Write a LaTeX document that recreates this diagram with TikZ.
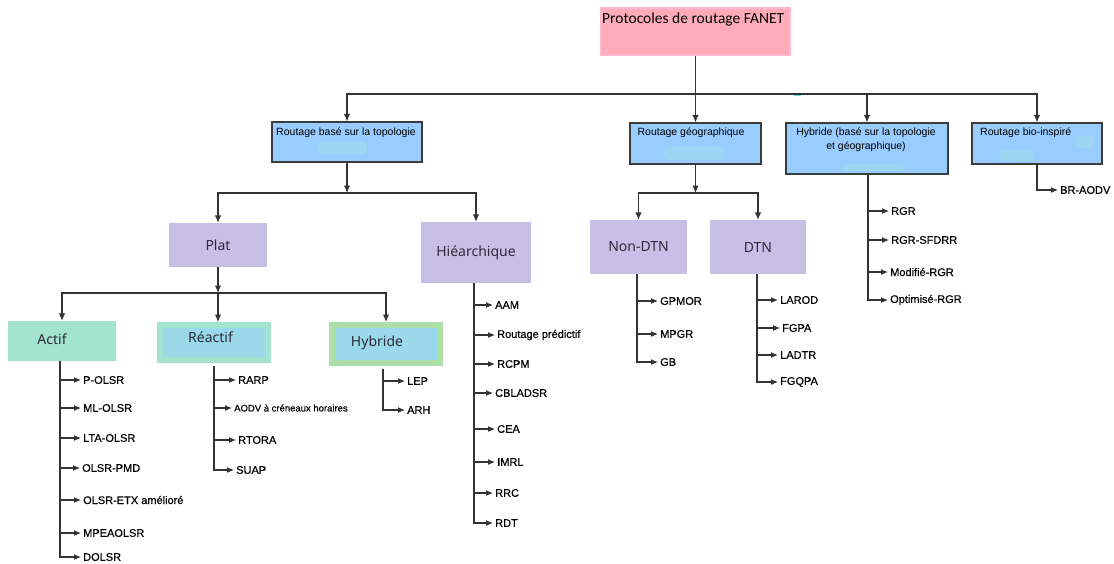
\documentclass[tikz,border=0pt]{standalone}
\usepackage{fontspec}
\setmainfont{Liberation Sans}
\newfontfamily\calibfont{Carlito}
\newfontfamily\notofont{Noto Sans}
\newfontfamily\leaffont{Liberation Sans}[FakeBold=0.5]
\usetikzlibrary{arrows.meta}

\definecolor{rootpink}{HTML}{FFABBA}
\definecolor{rootedge}{HTML}{FFB8CF}
\definecolor{catblue}{HTML}{99CCFF}
\definecolor{catedge}{HTML}{3C3C3C}
\definecolor{lavender}{HTML}{C8BFE7}
\definecolor{mint}{HTML}{A3E4CF}
\definecolor{skyfill}{HTML}{99D9EA}
\definecolor{leafgreen}{HTML}{ADDFA8}
\definecolor{smudge}{HTML}{9CD6F2}
\definecolor{wirecol}{HTML}{333333}
\definecolor{subtext}{HTML}{2E2A3A}

\tikzset{
  rootbox/.style={rectangle, fill=rootpink, draw=rootedge, line width=1.5pt,
    minimum width=189pt, minimum height=47pt, inner sep=0pt},
  catbox/.style={rectangle, fill=catblue, draw=catedge, line width=1.1pt,
    inner sep=0pt},
  cattext/.style={font=\fontsize{10.5}{13}\selectfont, inner sep=0pt, align=center},
  subbox/.style={rectangle, fill=lavender, inner sep=0pt, text=subtext,
    font=\notofont\fontsize{14}{16}\selectfont},
  subtextstyle/.style={inner sep=0pt, text=subtext, font=\notofont\fontsize{14}{16}\selectfont},
  leaf/.style={anchor=west, inner xsep=2pt, inner ysep=0pt,
    font=\leaffont\fontsize{11}{13}\selectfont},
  wire/.style={draw=wirecol, line width=1.1pt},
  arr/.style={wire, -{Latex[length=7.5pt,width=6.5pt]}},
  leafarr/.style={wire, -{Latex[length=7pt,width=6pt]}},
}

\begin{document}
\begin{tikzpicture}[x=1pt, y=-1pt]
\useasboundingbox (0,0) rectangle (1114,563);

% ---- root ----
\node[rootbox] (root) at (695.5,31.5) {};
\node[anchor=west, inner sep=0pt, font=\calibfont\fontsize{15.5}{18}\selectfont] (roottxt) at (602,19) {Protocoles de routage FANET};

% ---- first level ----
\node[catbox, minimum width=150pt, minimum height=40pt] (topo) at (347,142) {};
\node[catbox, minimum width=131pt, minimum height=41pt] (geo) at (695.5,143.5) {};
\node[catbox, minimum width=162pt, minimum height=51pt] (hyb) at (867,148.5) {};
\node[catbox, minimum width=130pt, minimum height=41pt] (bio) at (1037,143.5) {};

% faint marks inside the blue boxes
\fill[smudge, rounded corners=4pt] (317,142) rectangle (367,154);
\fill[smudge, rounded corners=4pt] (664,147) rectangle (725,160);
\fill[smudge, rounded corners=4pt] (843,164) rectangle (904,171);
\fill[smudge, rounded corners=4pt] (1000,149) rectangle (1034,161);
\fill[smudge, rounded corners=4pt] (1075,136) rectangle (1095,148);

\node[cattext] (topotxt) at (346,133) {Routage basé sur la topologie};
\node[cattext] (geotxt) at (691,133) {Routage géographique};
\node[cattext] (hybtxt) at (866,140) {Hybride (basé sur la topologie\\[1pt] et géographique)};
\node[cattext, anchor=west] (biotxt) at (980,133) {Routage bio-inspiré};

% ---- second level ----
\node[subbox, minimum width=98pt, minimum height=44pt] (plat) at (218,245) {Plat};
\node[subbox, minimum width=110pt, minimum height=61pt] (hier) at (476,252.5) {Hiéarchique};
\node[subbox, minimum width=97pt, minimum height=54pt] (nondtn) at (638.5,247) {Non-DTN};
\node[subbox, minimum width=96pt, minimum height=54pt] (dtn) at (758,247) {DTN};

% ---- third level ----
\node[rectangle, fill=mint, inner sep=0pt, minimum width=108pt, minimum height=40pt] (actif) at (62,341) {};
\node[subtextstyle] (actiftxt) at (52,339) {Actif};
\node[rectangle, fill=skyfill, draw=mint, line width=6pt, inner sep=0pt,
      minimum width=108pt, minimum height=35pt] (reactif) at (214,342.5) {};
\node[subtextstyle] (reactiftxt) at (210.5,337) {Réactif};
\node[rectangle, fill=skyfill, draw=leafgreen, line width=6pt, inner sep=0pt,
      minimum width=108pt, minimum height=38pt] (hybb) at (386,344) {};
\node[subtextstyle] (hybbtxt) at (377,343) {Hybride};

% ---- bus coordinates ----
\coordinate (busA) at (0,94);
\coordinate (busB) at (0,193);
\coordinate (busC) at (0,293);

% ---- connectors between boxes ----
\draw[arr] (root.south) -- (geo.north);
\draw[arr] (root.south |- busA) -| (topo.north);
\draw[arr] (root.south |- busA) -| (hyb.north);
\draw[arr] (root.south |- busA) -| (bio.north);
\draw[cyan!60, line width=1.4pt] (794,95.5) -- (801,95.5);

\draw[arr] (topo.south) -- (topo.south |- busB);
\draw[arr] (topo.south |- busB) -| (plat.north);
\draw[arr] (topo.south |- busB) -| (hier.north);

\draw[arr] (geo.south) -- (geo.south |- busB);
\draw[arr] (geo.south |- busB) -| (nondtn.north);
\draw[arr] (geo.south |- busB) -| (dtn.north);

\draw[arr] (plat.south) -- (plat.south |- busC);
\draw[arr] (plat.south |- busC) -| (actif.north);
\draw[arr] (plat.south |- busC) -- (plat.south |- reactif.north);
\draw[arr] (plat.south |- busC) -| (hybb.north);

% ---- leaves: Actif ----
\node[leaf] (polsr) at (81,380) {P-OLSR};
\node[leaf] (mlolsr) at (81,408) {ML-OLSR};
\node[leaf] (ltaolsr) at (81,438) {LTA-OLSR};
\node[leaf] (olsrpmd) at (80,468) {OLSR-PMD};
\node[leaf] (olsretx) at (81,500) {OLSR-ETX amélioré};
\node[leaf] (mpeaolsr) at (81,533) {MPEAOLSR};
\node[leaf] (dolsr) at (81,557) {DOLSR};
\foreach \c in {polsr,mlolsr,ltaolsr,olsrpmd,olsretx,mpeaolsr,dolsr}
  \draw[leafarr] (actif.south -| 60,0) |- (\c.west);

% ---- leaves: Réactif ----
\node[leaf] (rarp) at (236,380) {RARP};
\node[leaf, font=\leaffont\fontsize{9.5}{11}\selectfont] (aodv) at (232,408) {AODV à créneaux horaires};
\node[leaf] (rtora) at (236,440) {RTORA};
\node[leaf] (suap) at (234,470) {SUAP};
\foreach \c in {rarp,aodv,rtora,suap}
  \draw[leafarr] (reactif.south) ++(0,3) |- (\c.west);

% ---- leaves: Hybride ----
\node[leaf] (lep) at (405,381) {LEP};
\node[leaf] (arh) at (405,410) {ARH};
\foreach \c in {lep,arh}
  \draw[leafarr] (hybb.south -| 383,0) ++(0,3) |- (\c.west);

% ---- leaves: Hiéarchique ----
\node[leaf] (aam) at (493,305) {AAM};
\node[leaf] (rpred) at (495,335) {Routage prédictif};
\node[leaf] (rcpm) at (495,364) {RCPM};
\node[leaf] (cbladsr) at (493,393) {CBLADSR};
\node[leaf] (cea) at (495,429) {CEA};
\node[leaf] (imrl) at (495,462) {IMRL};
\node[leaf] (rrc) at (493,493) {RRC};
\node[leaf] (rdt) at (493,523) {RDT};
\foreach \c in {aam,rpred,rcpm,cbladsr,cea,imrl,rrc,rdt}
  \draw[leafarr] (hier.south -| 474,0) |- (\c.west);

% ---- leaves: Non-DTN ----
\node[leaf] (gpmor) at (658,301) {GPMOR};
\node[leaf] (mpgr) at (658,334) {MPGR};
\node[leaf] (gb) at (658,362) {GB};
\foreach \c in {gpmor,mpgr,gb}
  \draw[leafarr] (nondtn.south -| 637,0) |- (\c.west);

% ---- leaves: DTN ----
\node[leaf] (larod) at (778,300) {LAROD};
\node[leaf] (fgpa) at (780,328) {FGPA};
\node[leaf] (ladtr) at (778,355) {LADTR};
\node[leaf] (fgqpa) at (778,382) {FGQPA};
\foreach \c in {larod,fgpa,ladtr,fgqpa}
  \draw[leafarr] (dtn.south -| 757,0) |- (\c.west);

% ---- leaves: hybrid routing ----
\node[leaf] (rgr) at (889,211) {RGR};
\node[leaf] (rgrsf) at (889,240) {RGR-SFDRR};
\node[leaf] (modrgr) at (888,272) {Modifié-RGR};
\node[leaf] (optrgr) at (888,300) {Optimisé-RGR};
\foreach \c in {rgr,rgrsf,modrgr,optrgr}
  \draw[leafarr] (hyb.south -| 868,0) |- (\c.west);

% ---- leaf: bio-inspired ----
\node[leaf] (braodv) at (1058,190) {BR-AODV};
\draw[leafarr] (bio.south) |- (braodv.west);

\end{tikzpicture}
\end{document}
